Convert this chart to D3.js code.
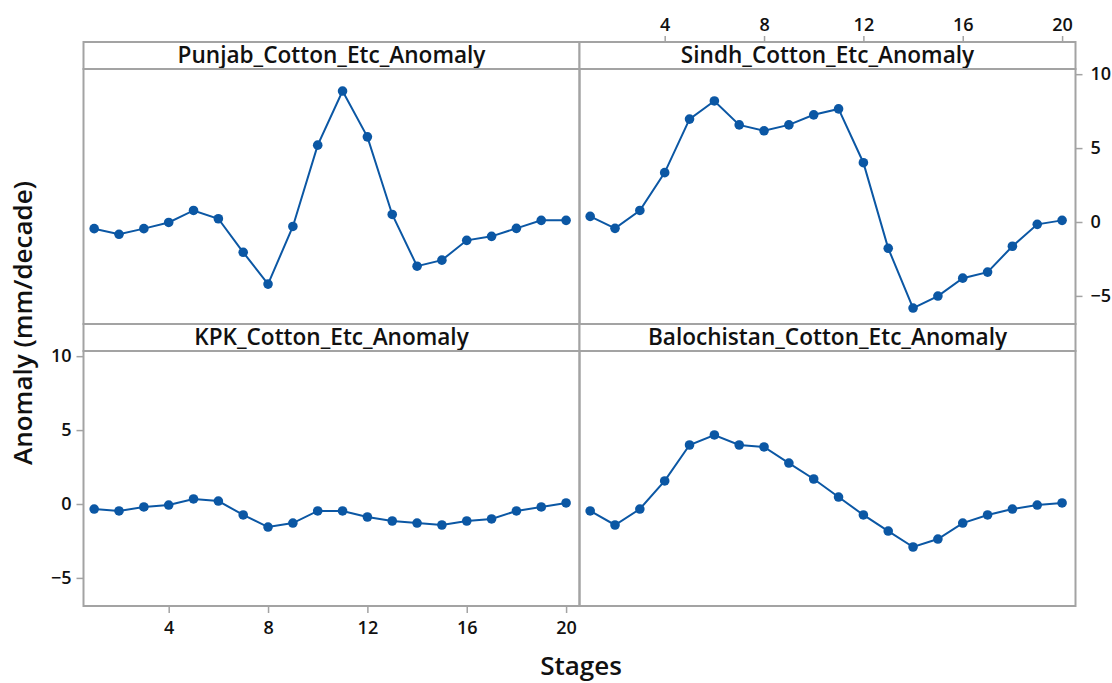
<!DOCTYPE html>
<html>
<head>
<meta charset="utf-8">
<script src="https://cdn.jsdelivr.net/npm/d3@7"></script>
<style>
  body { margin: 0; background: #fff; }
  svg { display: block; font-family: "Open Sans", sans-serif; }
</style>
</head>
<body>
<div class="chart"></div>
<script>
const stages = d3.range(1, 21);
const panelNames = ['Punjab_Cotton_Etc_Anomaly', 'Sindh_Cotton_Etc_Anomaly',
                    'KPK_Cotton_Etc_Anomaly', 'Balochistan_Cotton_Etc_Anomaly'];
const punjab = [-0.45, -0.83, -0.45, -0.03, 0.78, 0.22, -2.05, -4.2, -0.3, 5.2,
                8.86, 5.76, 0.51, -2.99, -2.58, -1.24, -0.97, -0.43, 0.11, 0.11];
const sindh = [0.38, -0.43, 0.78, 3.34, 6.96, 8.19, 6.57, 6.17, 6.57, 7.25,
               7.65, 4.01, -1.78, -5.82, -5.01, -3.8, -3.39, -1.64, -0.16, 0.11];
const kpk = [-0.34, -0.47, -0.2, -0.07, 0.34, 0.2, -0.74, -1.56, -1.29, -0.47,
             -0.47, -0.88, -1.15, -1.29, -1.42, -1.15, -1.01, -0.47, -0.2, 0.07];
const balochistan = [-0.47, -1.42, -0.34, 1.56, 3.99, 4.67, 3.99, 3.86, 2.77, 1.69,
                     0.47, -0.74, -1.83, -2.91, -2.37, -1.29, -0.74, -0.34, -0.07, 0.07];
const xTicks = [4, 8, 12, 16, 20];
const yTicks = [-5, 0, 5, 10];

const W = 1112, H = 683;
const marginLeft = 83.5, marginTop = 42;
const panelW = 496, stripH = 27, plotH = 255;
const frameColor = '#a3a3a3';
const lineColor = '#0b57a4';

const svg = d3.select('.chart').append('svg')
  .attr('width', W).attr('height', H);

const x = d3.scaleLinear().domain([0.57, 20.54]).range([0, panelW]);
const y = d3.scaleLinear().domain([-6.9, 10.35]).range([plotH, 0]);

const series = [punjab, sindh, kpk, balochistan];

series.forEach((vals, i) => {
  const col = i % 2, row = Math.floor(i / 2);
  const gx = marginLeft + col * panelW;
  const gy = marginTop + row * (stripH + plotH);
  const g = svg.append('g').attr('transform', `translate(${gx},${gy})`);

  // strip con el nombre
  g.append('rect')
    .attr('width', panelW).attr('height', stripH)
    .attr('fill', '#fff').attr('stroke', frameColor).attr('stroke-width', 2);
  g.append('text')
    .attr('x', panelW / 2).attr('y', 21)
    .attr('text-anchor', 'middle')
    .attr('font-size', '22.6px').attr('font-weight', 600).attr('fill', '#111')
    .text(panelNames[i]);

  const p = g.append('g').attr('transform', `translate(0,${stripH})`);
  p.append('rect')
    .attr('width', panelW).attr('height', plotH)
    .attr('fill', 'none').attr('stroke', frameColor).attr('stroke-width', 2);

  const line = d3.line().x((d, j) => x(stages[j])).y(d => y(d));
  p.append('path')
    .datum(vals)
    .attr('d', line)
    .attr('fill', 'none').attr('stroke', lineColor).attr('stroke-width', 2);
  p.selectAll('circle')
    .data(vals)
    .enter().append('circle')
    .attr('cx', (d, j) => x(stages[j]))
    .attr('cy', d => y(d))
    .attr('r', 4.8)
    .attr('fill', lineColor);

  // ejes externos
  const styleAxis = sel => {
    sel.attr('font-family', null).attr('font-size', null);
    sel.select('.domain').remove();
    sel.selectAll('line').attr('stroke', frameColor).attr('stroke-width', 1.5);
    sel.selectAll('text').attr('font-size', '18px').attr('font-weight', 600).attr('fill', '#111');
  };
  if (i === 2) {
    p.append('g')
      .call(d3.axisLeft(y).tickValues(yTicks).tickSize(7).tickPadding(5))
      .call(styleAxis);
    p.append('g').attr('transform', `translate(0,${plotH})`)
      .call(d3.axisBottom(x).tickValues(xTicks).tickSize(7).tickPadding(8))
      .call(styleAxis);
  }
  if (i === 1) {
    p.append('g').attr('transform', `translate(${panelW},0)`)
      .call(d3.axisRight(y).tickValues(yTicks).tickSize(7).tickPadding(8))
      .call(styleAxis);
    g.append('g')
      .call(d3.axisTop(x).tickValues(xTicks).tickSize(6).tickPadding(5))
      .call(styleAxis);
  }
});

svg.append('text')
  .attr('transform', 'translate(32,323) rotate(-90)')
  .attr('text-anchor', 'middle')
  .attr('font-size', '26px').attr('font-weight', 600).attr('fill', '#111')
  .text('Anomaly (mm/decade)');

svg.append('text')
  .attr('x', 581).attr('y', 675)
  .attr('text-anchor', 'middle')
  .attr('font-size', '26px').attr('font-weight', 600).attr('fill', '#111')
  .text('Stages');
</script>
</body>
</html>
